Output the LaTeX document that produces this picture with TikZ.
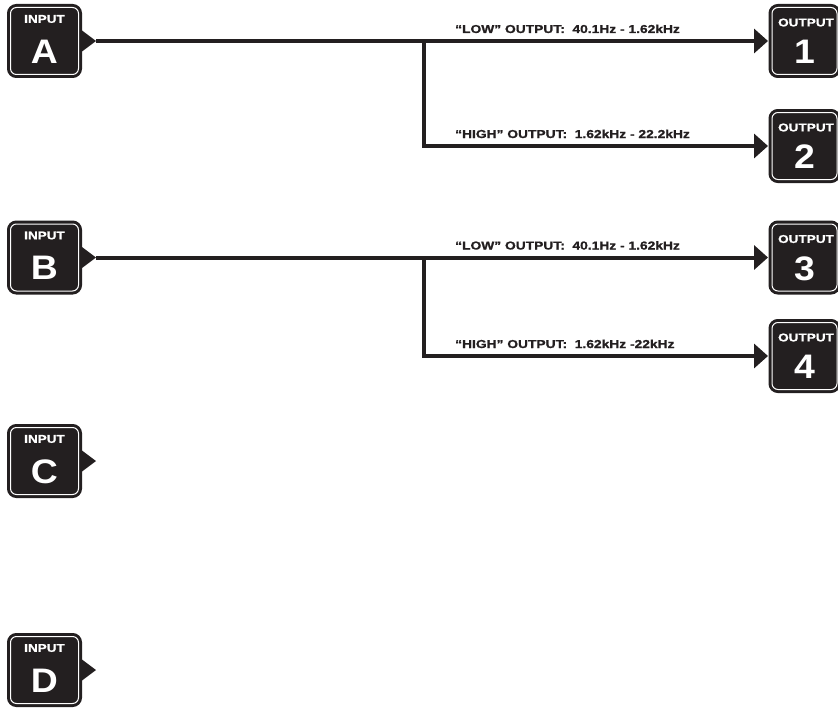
\documentclass[tikz,border=0pt]{standalone}
\usepackage{fontspec}
\setmainfont{Liberation Sans}
\newfontfamily\widefont[FakeStretch=1.2,FakeBold=1.2]{Liberation Sans}
\newfontfamily\bigfont[FakeStretch=1.1]{Liberation Sans}
\usetikzlibrary{arrows.meta,calc}
\definecolor{dark}{HTML}{231F20}
\tikzset{
  boxst/.style={draw=white, line width=1pt, fill=dark, rounded corners=6pt,
    preaction={draw=dark, line width=7pt}, minimum height=67pt, inner sep=0pt},
  toptxt/.style={font=\widefont\bfseries\fontsize{11.3}{12}\selectfont, text=white, inner sep=0pt},
  bigtxt/.style={font=\bigfont\bfseries\fontsize{34}{34}\selectfont, text=white, inner sep=0pt},
  lbl/.style={font=\widefont\bfseries\fontsize{11.5}{12}\selectfont, text=dark, inner sep=0pt, anchor=base west},
  conn/.style={draw=dark, line width=4pt},
  arr/.style={conn, -{Triangle[length=14pt,width=24pt]}, shorten >=3.5pt},
}
\newcommand\inbox[4]{%
  \node[boxst, minimum width=68pt] (#1) at (#2,#3) {};
  \node[toptxt] (#1t) at ($(#1.center)+(0,-22)$) {INPUT};
  \node[bigtxt] (#1l) at ($(#1.center)+(0,10.5)$) {#4};
  \fill[dark] ($(#1.east)+(3,-10.5)$) -- ++(14,10.5) coordinate (#1tip) -- ++(-14,10.5) -- cycle;
}
\newcommand\outbox[4]{%
  \node[boxst, minimum width=65pt] (#1) at (#2,#3) {};
  \node[toptxt] (#1t) at ($(#1.center)+(1.5,-18.5)$) {OUTPUT};
  \node[bigtxt] (#1l) at ($(#1.center)+(0,11)$) {#4};
}
\begin{document}
\begin{tikzpicture}[x=1pt,y=-1pt]
\useasboundingbox (0,0) rectangle (838,709);
\inbox{inA}{44.5}{41}{A}
\inbox{inB}{44.5}{257.5}{B}
\inbox{inC}{44.5}{461}{C}
\inbox{inD}{44.5}{670}{D}
\outbox{out1}{804.5}{41}{1}
\outbox{out2}{804.5}{146}{2}
\outbox{out3}{804.5}{257.5}{3}
\outbox{out4}{804.5}{356}{4}
\coordinate (brA) at (424,41);
\coordinate (brB) at (424,257.5);
\draw[arr] (inAtip) -- (out1.west);
\draw[arr] (brA) |- (out2.west);
\draw[arr] (inBtip) -- (out3.west);
\draw[arr] (brB) |- (out4.west);
\node[lbl] (l1) at (455,33) {“LOW” OUTPUT:\ \ 40.1Hz - 1.62kHz};
\node[lbl] (l2) at (455,138) {“HIGH” OUTPUT:\ \ 1.62kHz - 22.2kHz};
\node[lbl] (l3) at (455,249.5) {“LOW” OUTPUT:\ \ 40.1Hz - 1.62kHz};
\node[lbl] (l4) at (455,348) {“HIGH” OUTPUT:\ \ 1.62kHz -22kHz};
\end{tikzpicture}
\end{document}
